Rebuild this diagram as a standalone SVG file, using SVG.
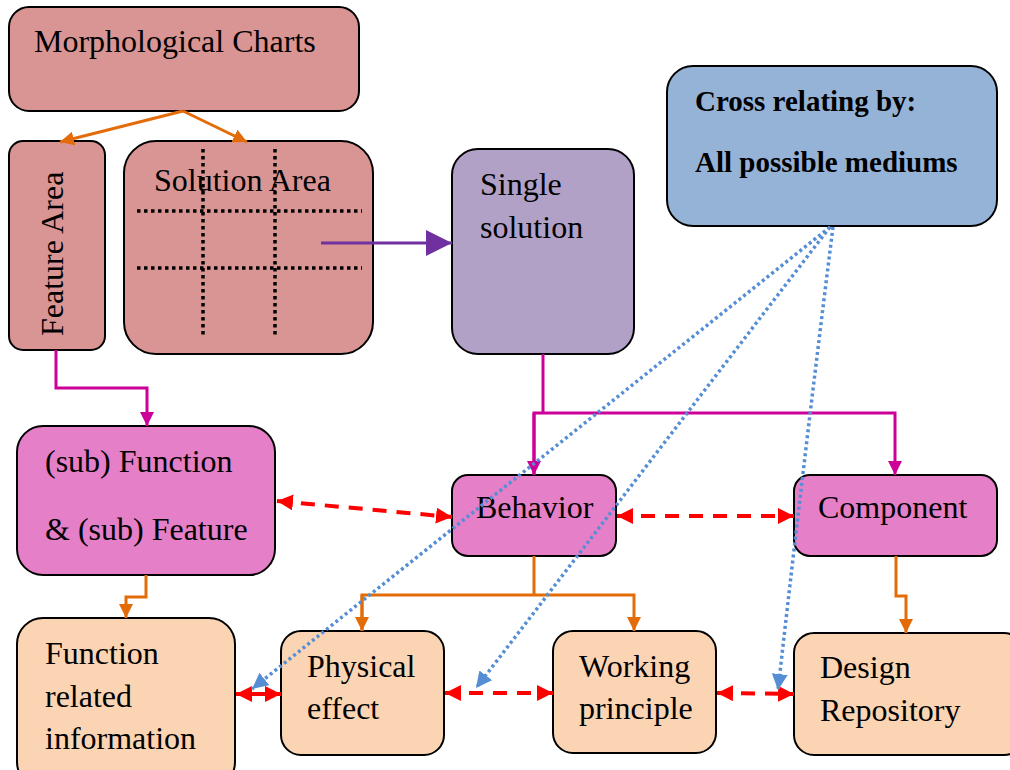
<svg xmlns="http://www.w3.org/2000/svg" width="1010" height="770" viewBox="0 0 1010 770">
  <style>
    .box { stroke: #000; stroke-width: 2; }
    .morph { fill: #D99594; }
    .single { fill: #B2A1C7; }
    .cross { fill: #95B3D7; }
    .pink { fill: #E57FC8; }
    .peach { fill: #FBD4B4; }
    text { font-family: "Liberation Serif", "Times New Roman", serif; font-size: 32px; fill: #000; }
    .bold { font-weight: bold; font-size: 29px; }
    .grid { stroke: #000; stroke-width: 3.5; stroke-dasharray: 3.5 3.5; fill: none; }
    .orange { stroke: #E36C09; stroke-width: 3; fill: none; }
    .magenta { stroke: #CC0099; stroke-width: 3; fill: none; }
    .violet { stroke: #7030A0; stroke-width: 3; fill: none; }
    .red { stroke: #FF0000; stroke-width: 4; fill: none; stroke-dasharray: 14 10; }
    .blue { stroke: #558ED5; stroke-width: 3.5; fill: none; stroke-dasharray: 3 3; }
  </style>
  <defs>
    <marker id="ahOrange" markerUnits="userSpaceOnUse" markerWidth="16" markerHeight="16" refX="14" refY="7" orient="auto">
      <path d="M0,0 L14,7 L0,14 Z" fill="#E36C09"/>
    </marker>
    <marker id="ahMagenta" markerUnits="userSpaceOnUse" markerWidth="16" markerHeight="16" refX="14" refY="7" orient="auto">
      <path d="M0,0 L14,7 L0,14 Z" fill="#CC0099"/>
    </marker>
    <marker id="ahViolet" markerUnits="userSpaceOnUse" markerWidth="28" markerHeight="28" refX="26" refY="13" orient="auto">
      <path d="M0,0 L26,13 L0,26 Z" fill="#7030A0"/>
    </marker>
    <marker id="ahRed" markerUnits="userSpaceOnUse" markerWidth="18" markerHeight="18" refX="16" refY="8" orient="auto-start-reverse">
      <path d="M0,0 L16,8 L0,16 Z" fill="#FF0000"/>
    </marker>
    <marker id="ahBlue" markerUnits="userSpaceOnUse" markerWidth="18" markerHeight="18" refX="16" refY="8" orient="auto">
      <path d="M0,0 L16,8 L0,16 Z" fill="#558ED5"/>
    </marker>
  </defs>

  <!-- nodes -->
  <g id="morphological-charts">
    <rect class="box morph" x="9" y="7" width="350" height="104" rx="20"/>
    <text x="34" y="52">Morphological Charts</text>
  </g>
  <g id="feature-area">
    <rect class="box morph" x="9" y="141" width="96" height="209" rx="14"/>
    <text transform="translate(63,336) rotate(-90)">Feature Area</text>
  </g>
  <g id="solution-area">
    <rect class="box morph" x="124" y="141" width="249" height="213" rx="32"/>
    <text x="154" y="191">Solution Area</text>
    <line class="grid" x1="137" y1="211" x2="362" y2="211"/>
    <line class="grid" x1="137" y1="268" x2="362" y2="268"/>
    <line class="grid" x1="203" y1="149" x2="203" y2="337"/>
    <line class="grid" x1="275" y1="149" x2="275" y2="337"/>
  </g>
  <g id="single-solution">
    <rect class="box single" x="452" y="149" width="182" height="205" rx="26"/>
    <text x="480" y="195">Single</text>
    <text x="480" y="238">solution</text>
  </g>
  <g id="cross-relating">
    <rect class="box cross" x="667" y="66" width="330" height="160" rx="26"/>
    <text class="bold" x="695" y="111">Cross relating by:</text>
    <text class="bold" x="695" y="172">All possible mediums</text>
  </g>
  <g id="sub-function">
    <rect class="box pink" x="17" y="426" width="258" height="149" rx="26"/>
    <text x="45" y="472">(sub) Function</text>
    <text x="45" y="540">&amp; (sub) Feature</text>
  </g>
  <g id="behavior">
    <rect class="box pink" x="452" y="475" width="164" height="81" rx="16"/>
    <text x="476" y="518">Behavior</text>
  </g>
  <g id="component">
    <rect class="box pink" x="794" y="475" width="203" height="81" rx="16"/>
    <text x="818" y="518">Component</text>
  </g>
  <g id="function-related">
    <rect class="box peach" x="17" y="618" width="218" height="170" rx="26"/>
    <text x="45" y="664">Function</text>
    <text x="45" y="707">related</text>
    <text x="45" y="749">information</text>
  </g>
  <g id="physical-effect">
    <rect class="box peach" x="281" y="631" width="163" height="124" rx="20"/>
    <text x="307" y="677">Physical</text>
    <text x="307" y="719">effect</text>
  </g>
  <g id="working-principle">
    <rect class="box peach" x="553" y="631" width="163" height="122" rx="20"/>
    <text x="579" y="677">Working</text>
    <text x="579" y="719">principle</text>
  </g>
  <g id="design-repository">
    <rect class="box peach" x="794" y="633" width="230" height="122" rx="20"/>
    <text x="820" y="678">Design</text>
    <text x="820" y="721">Repository</text>
  </g>

  <!-- connectors -->
  <g id="connectors">
    <line class="orange" x1="183" y1="111" x2="60" y2="142" marker-end="url(#ahOrange)"/>
    <line class="orange" x1="183" y1="111" x2="247" y2="142" marker-end="url(#ahOrange)"/>
    <line class="violet" x1="321" y1="243" x2="452" y2="243" marker-end="url(#ahViolet)"/>
    <polyline class="magenta" points="56,350 56,388 147,388 147,426" marker-end="url(#ahMagenta)"/>
    <line class="magenta" x1="543" y1="354" x2="543" y2="413"/>
    <polyline class="magenta" points="534,475 534,413 895,413 895,475" marker-end="url(#ahMagenta)"/>
    <line class="magenta" x1="534" y1="413" x2="534" y2="475" marker-end="url(#ahMagenta)"/>
    <polyline class="orange" points="146,575 146,597 126,597 126,618" marker-end="url(#ahOrange)"/>
    <line class="orange" x1="534" y1="556" x2="534" y2="595"/>
    <polyline class="orange" points="362,631 362,595 634,595 634,631" marker-end="url(#ahOrange)"/>
    <line class="orange" x1="362" y1="595" x2="362" y2="631" marker-end="url(#ahOrange)"/>
    <polyline class="orange" points="896,556 896,596 906,596 906,633" marker-end="url(#ahOrange)"/>

    <line class="red" x1="277" y1="501" x2="452" y2="517" marker-start="url(#ahRed)" marker-end="url(#ahRed)"/>
    <line class="red" x1="617" y1="516" x2="794" y2="516" marker-start="url(#ahRed)" marker-end="url(#ahRed)"/>
    <line class="red" x1="236" y1="694" x2="281" y2="694" style="stroke-dasharray:none" marker-start="url(#ahRed)" marker-end="url(#ahRed)"/>
    <line class="red" x1="445" y1="693" x2="553" y2="693" marker-start="url(#ahRed)" marker-end="url(#ahRed)"/>
    <line class="red" x1="717" y1="693" x2="794" y2="694" marker-start="url(#ahRed)" marker-end="url(#ahRed)"/>

    <line class="blue" x1="830" y1="227" x2="252" y2="689" marker-end="url(#ahBlue)"/>
    <line class="blue" x1="830" y1="227" x2="476" y2="688" marker-end="url(#ahBlue)"/>
    <path class="blue" d="M833,227 Q805,450 778,690" marker-end="url(#ahBlue)"/>
  </g>
</svg>
